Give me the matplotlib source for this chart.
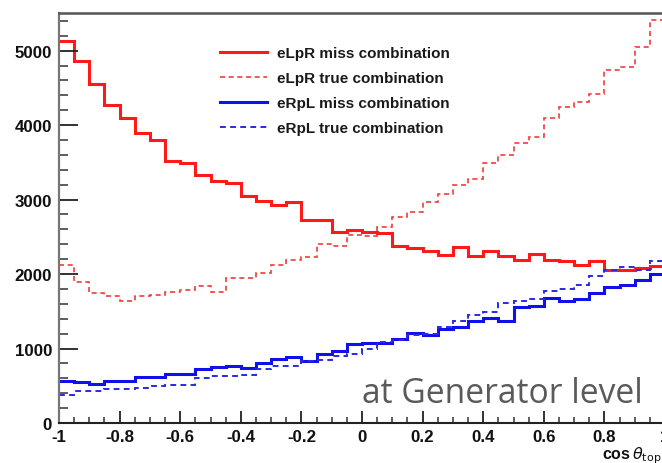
import numpy as np
import matplotlib
matplotlib.use("Agg")
import matplotlib.pyplot as plt
from matplotlib.lines import Line2D
from matplotlib.ticker import MultipleLocator

# ---- data (40 bins in cos(theta_top) from -1 to 1) ----
bin_lo, bin_hi, n_bins = -1.0, 1.0, 40

elpr_miss = [5130, 4860, 4545, 4265, 4095, 3890, 3800, 3515, 3486, 3334,
             3244, 3225, 3050, 2985, 2925, 2970, 2720, 2722, 2560, 2585,
             2567, 2548, 2375, 2345, 2315, 2252, 2359, 2248, 2306, 2238,
             2194, 2270, 2194, 2180, 2127, 2171, 2059, 2050, 2082, 2104]

elpr_true = [2120, 1894, 1746, 1700, 1633, 1709, 1713, 1763, 1790, 1834,
             1765, 1947, 1947, 2015, 2117, 2194, 2234, 2409, 2380, 2530,
             2517, 2632, 2768, 2833, 2965, 3078, 3190, 3280, 3495, 3598,
             3765, 3840, 4101, 4249, 4311, 4424, 4742, 4774, 5043, 5415]

erpl_miss = [570, 547, 520, 565, 565, 615, 615, 655, 655, 722,
             752, 762, 736, 812, 865, 886, 839, 931, 973, 1059,
             1075, 1068, 1125, 1207, 1180, 1256, 1288, 1373, 1404, 1369,
             1552, 1575, 1678, 1633, 1665, 1746, 1823, 1857, 1920, 2000]

erpl_true = [377, 427, 427, 454, 462, 475, 494, 511, 511, 601,
             625, 628, 640, 725, 769, 769, 830, 843, 893, 930,
             988, 1081, 1110, 1185, 1195, 1288, 1373, 1454, 1484, 1611,
             1642, 1665, 1767, 1800, 1848, 1978, 2059, 2090, 2055, 2171]

labels = ["eLpR miss combination", "eLpR true combination",
          "eRpL miss combination", "eRpL true combination"]

edges = np.linspace(bin_lo, bin_hi, n_bins + 1)

W, H = 662, 464
fig = plt.figure(figsize=(W / 100, H / 100), dpi=100)
fig.patch.set_facecolor("white")

# axes in pixel coordinates: left 59, right 665 (beyond image), bottom 424, top 14
ax = fig.add_axes([59 / W, (H - 424) / H, (665 - 59) / W, (424 - 14) / H])

RED = "#ff1a1a"
RED_L = "#f03c3c"
BLUE = "#1010e8"
BLUE_D = "#2a2ae0"

ax.stairs(elpr_miss, edges, baseline=None, color=RED, lw=2.2)
ax.stairs(elpr_true, edges, baseline=None, color=RED_L, lw=1.2, linestyle=(0, (3, 2.2)))
ax.stairs(erpl_miss, edges, baseline=None, color=BLUE, lw=2.2)
ax.stairs(erpl_true, edges, baseline=None, color=BLUE_D, lw=1.4, linestyle=(0, (3, 2.2)))

ax.set_xlim(-1, 1)
ax.set_ylim(0, 5505)

ax.xaxis.set_major_locator(MultipleLocator(0.2))
ax.xaxis.set_minor_locator(MultipleLocator(0.05))
ax.yaxis.set_major_locator(MultipleLocator(1000))
ax.yaxis.set_minor_locator(MultipleLocator(200))

ax.tick_params(axis="y", which="major", direction="in", length=13.5, width=1.3, color="#222222", pad=5)
ax.tick_params(axis="y", which="minor", direction="in", length=6.5, width=1.1, color="#333333")
ax.tick_params(axis="x", which="major", direction="in", length=8.5, width=1.3, color="#222222", pad=4)
ax.tick_params(axis="x", which="minor", direction="in", length=4.3, width=1.1, color="#333333")
ax.tick_params(top=False, right=False)

ax.set_yticks([0, 1000, 2000, 3000, 4000, 5000])
ax.set_yticklabels(["0", "1000", "2000", "3000", "4000", "5000"])
xt = [-1, -0.8, -0.6, -0.4, -0.2, 0, 0.2, 0.4, 0.6, 0.8, 1]
ax.set_xticks(xt)
ax.set_xticklabels(["-1", "-0.8", "-0.6", "-0.4", "-0.2", "0", "0.2", "0.4", "0.6", "0.8", "1"])

for lab in ax.get_xticklabels() + ax.get_yticklabels():
    lab.set_fontfamily("Liberation Sans")
    lab.set_fontweight("bold")
    lab.set_fontsize(12.2)
    lab.set_color("#111111")

ax.spines["left"].set_color("#777777")
ax.spines["left"].set_linewidth(1.6)
ax.spines["top"].set_color("#555555")
ax.spines["top"].set_linewidth(1.8)
ax.spines["bottom"].set_color("#222222")
ax.spines["bottom"].set_linewidth(1.5)
ax.spines["right"].set_visible(False)

handles = [
    Line2D([], [], color=RED, lw=2.2),
    Line2D([], [], color=RED_L, lw=1.2, linestyle=(0, (3, 2.2))),
    Line2D([], [], color=BLUE, lw=2.2),
    Line2D([], [], color=BLUE_D, lw=1.4, linestyle=(0, (3, 2.2))),
]
leg = ax.legend(handles, labels, loc="upper left",
                bbox_to_anchor=((220 - 59) / 606, (424 - 47) / 410),
                frameon=False, borderpad=0, borderaxespad=0,
                handlelength=3.1, handletextpad=0.65, labelspacing=0.72,
                prop={"family": "Liberation Sans", "weight": "bold", "size": 11})
for t in leg.get_texts():
    t.set_color("#1a1a1a")

fig.text(362 / W, 1 - 403 / H, "at Generator level", fontsize=24.2,
         family="Open Sans", color="#5a5a5a", ha="left", va="baseline")

fig.text(602 / W, 1 - 459 / H, r"cos$\,\theta_{\rm top}$", fontsize=11.5,
         family="Liberation Sans", fontweight="bold", color="#111111",
         ha="left", va="baseline")

fig.savefig("out.png", dpi=100, facecolor="white")
